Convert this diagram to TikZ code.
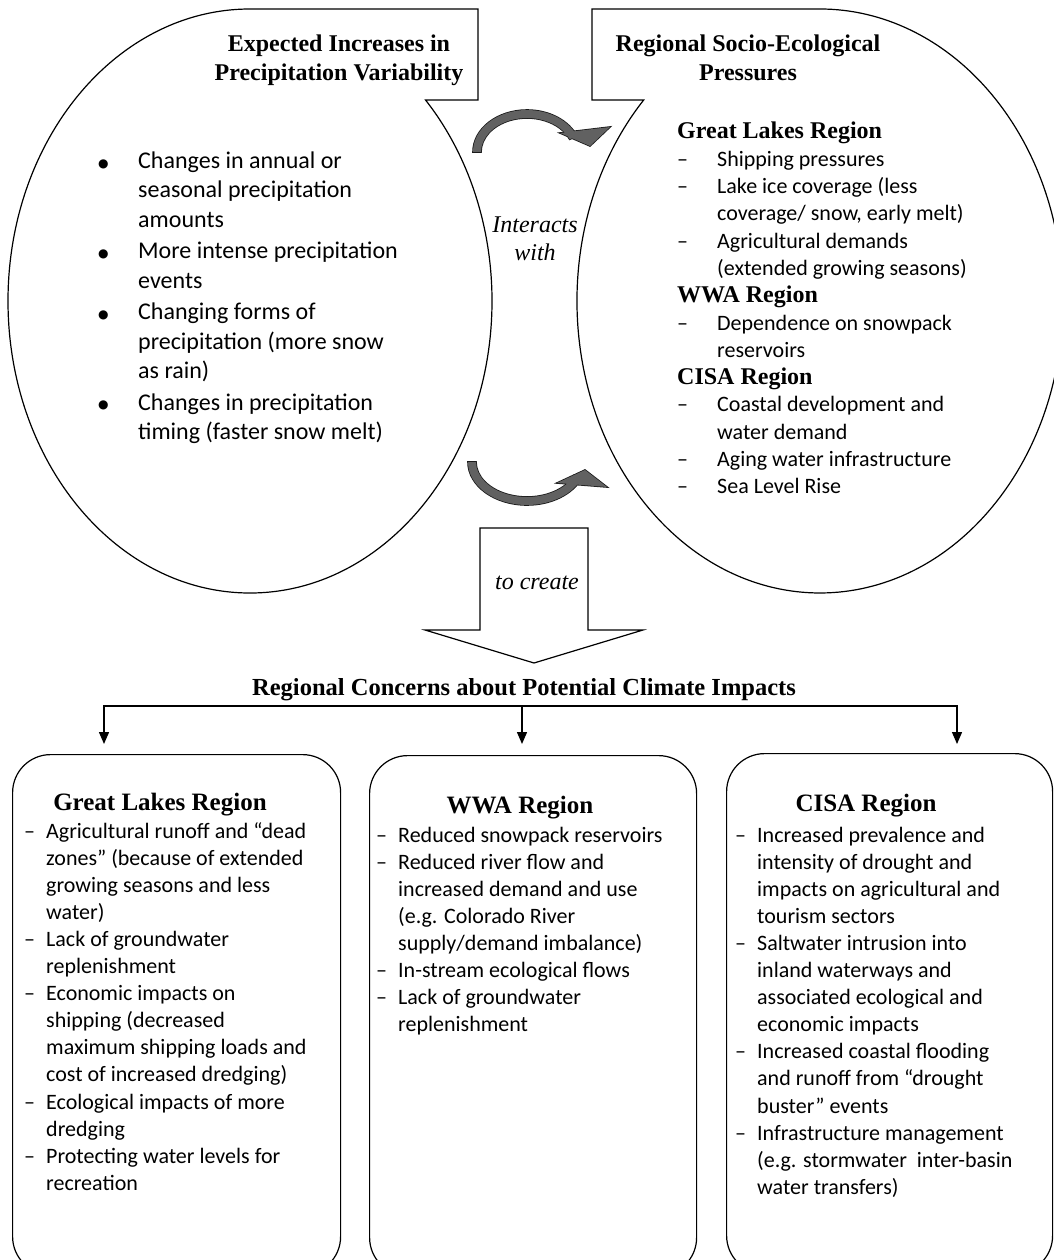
\documentclass[tikz,border=0pt]{standalone}
\usepackage{fontspec}
\setmainfont{Liberation Serif}
\newfontfamily\calfont{Carlito}
\newfontfamily\symfont{DejaVu Sans}
\usetikzlibrary{arrows.meta,calc}
\newcommand{\mybul}{\makebox[40pt][l]{\raisebox{1pt}{\symfont\fontsize{12}{12}\selectfont ●}}}
\newcommand{\myind}{\hspace*{40pt}}
\newcommand{\mydash}{\makebox[40pt][l]{–}}
\newcommand{\bxdash}{\makebox[22pt][l]{–}}
\newcommand{\bxind}{\hspace*{22pt}}
\newcommand{\myhead}[1]{{\rmfamily\bfseries\fontsize{24}{27.3}\selectfont #1}}
\tikzset{
  outline/.style={draw=black, line width=1.2pt},
  regionbox/.style={draw=black, line width=1.2pt, rounded corners=38pt, inner sep=0pt, anchor=north west},
  titletext/.style={anchor=base, inner sep=0pt, font=\bfseries\fontsize{24}{28.5}\selectfont},
  boxtitle/.style={anchor=base, inner sep=0pt, font=\bfseries\fontsize{25}{28.5}\selectfont},
  bigtext/.style={anchor=base west, inner sep=0pt, font=\calfont\fontsize{24}{29.5}\selectfont},
  ringtext/.style={anchor=base west, inner sep=0pt, font=\calfont\fontsize{22}{27.3}\selectfont},
  boxtext/.style={anchor=base west, inner sep=0pt, font=\calfont\fontsize{22}{27.1}\selectfont},
  linktext/.style={anchor=base, inner sep=0pt, font=\itshape\fontsize{24}{28}\selectfont},
  conn/.style={draw=black, line width=1.4pt},
  arrowfill/.style={fill=black!62},
  arrowedge/.style={draw=black!90, line width=1.6pt},
}
\begin{document}
\begin{tikzpicture}[x=1pt,y=1pt]
\useasboundingbox (0,0) rectangle (1053,-1260);

% ---- left ellipse with title callout
\draw[outline] (250,-9) arc[start angle=90,end angle=403.5,x radius=242pt,y radius=292pt]
  -- (478,-100) -- (478,-9) -- cycle;
% ---- right ellipse with title callout
\draw[outline] (820,-9) -- (592,-9) -- (592,-100) -- (643.7,-100)
  arc[start angle=136.5,end angle=450,x radius=243pt,y radius=292pt] -- cycle;

\node[titletext] (lefttitle) at (339,-52) {\begin{tabular}[t]{@{}c@{}}Expected Increases in\\ Precipitation Variability\end{tabular}};
\node[titletext] (righttitle) at (748,-52) {\begin{tabular}[t]{@{}c@{}}Regional Socio-Ecological\\ Pressures\end{tabular}};

\node[bigtext] (leftlist) at (98,-168) {\begin{tabular}[t]{@{}l@{}}
\mybul Changes in annual or\\
\myind seasonal precipitation\\
\myind amounts\\[2pt]
\mybul More intense precipitation\\
\myind events\\[2pt]
\mybul Changing forms of\\
\myind precipitation (more snow\\
\myind as rain)\\[2pt]
\mybul Changes in precipitation\\
\myind timing (faster snow melt)
\end{tabular}};

\node[ringtext] (rightlist) at (677,-139) {\begin{tabular}[t]{@{}l@{}}
\myhead{Great Lakes Region}\\
\mydash Shipping pressures\\
\mydash Lake ice coverage (less\\
\myind coverage/ snow, early melt)\\
\mydash Agricultural demands\\
\myind (extended growing seasons)\\
\myhead{WWA Region}\\
\mydash Dependence on snowpack\\
\myind reservoirs\\
\myhead{CISA Region}\\
\mydash Coastal development and\\
\myind water demand\\
\mydash Aging water infrastructure\\
\mydash Sea Level Rise
\end{tabular}};

% ---- curved arrows
\draw[arrowedge] (473,-152) arc[start angle=180,end angle=22,x radius=54pt,y radius=42pt]
  -- ($(527,-152)+(22:46pt and 34pt)$) arc[start angle=22,end angle=180,x radius=46pt,y radius=34pt] -- cycle;
\draw[arrowedge] (560,-133) -- (610,-127) -- (590,-146) -- cycle;
\fill[arrowfill] (473,-152) arc[start angle=180,end angle=22,x radius=54pt,y radius=42pt]
  -- ($(527,-152)+(22:46pt and 34pt)$) arc[start angle=22,end angle=180,x radius=46pt,y radius=34pt] -- cycle;
\fill[arrowfill] (560,-133) -- (610,-127) -- (590,-146) -- cycle;

\draw[arrowedge] (468,-462) arc[start angle=180,end angle=338,x radius=59pt,y radius=43pt]
  -- ($(527,-462)+(338:51pt and 35pt)$) arc[start angle=338,end angle=180,x radius=51pt,y radius=35pt] -- cycle;
\draw[arrowedge] (557,-483) -- (607,-487) -- (585,-470) -- cycle;
\fill[arrowfill] (468,-462) arc[start angle=180,end angle=338,x radius=59pt,y radius=43pt]
  -- ($(527,-462)+(338:51pt and 35pt)$) arc[start angle=338,end angle=180,x radius=51pt,y radius=35pt] -- cycle;
\fill[arrowfill] (557,-483) -- (607,-487) -- (585,-470) -- cycle;

\node[linktext] (interacts) at (535,-233) {\begin{tabular}[t]{@{}c@{}}Interacts\\ with\end{tabular}};

% ---- big down arrow
\draw[outline, fill=white] (480,-528) -- (588,-528) -- (588,-630) -- (643,-630) -- (534,-663)
  -- (425,-630) -- (480,-630) -- cycle;
\node[linktext] (tocreate) at (537,-589) {to create};

% ---- concerns heading and connectors
\node[titletext, font=\bfseries\fontsize{24.5}{28}\selectfont] (concerns) at (524,-695) {Regional Concerns about Potential Climate Impacts};
\coordinate (c1) at (104,-706);
\coordinate (c2) at (522,-706);
\coordinate (c3) at (957,-706);
\coordinate (t1) at (104,-744);
\coordinate (t2) at (522,-744);
\coordinate (t3) at (957,-744);
\draw[conn, {Triangle[width=10pt,length=12pt]}-{Triangle[width=10pt,length=12pt]}] (t1) -- (c1) -- (c3) -- (t3);
\draw[conn, -{Triangle[width=10pt,length=12pt]}] (c2) -- (t2);

% ---- region boxes
\node[regionbox, minimum width=328pt, minimum height=520pt] (glbox) at (12,-754) {};
\node[regionbox, minimum width=327pt, minimum height=520pt] (wwabox) at (369,-755) {};
\node[regionbox, minimum width=326pt, minimum height=520pt] (cisabox) at (726,-753) {};

\node[boxtitle] (gltitle) at (160,-810) {Great Lakes Region};
\node[boxtitle] (wwatitle) at (520,-813) {WWA Region};
\node[boxtitle] (cisatitle) at (866,-811) {CISA Region};

\node[boxtext] (gltext) at (24,-838) {\begin{tabular}[t]{@{}l@{}}
\bxdash Agricultural runoff and “dead\\
\bxind zones” (because of extended\\
\bxind growing seasons and less\\
\bxind water)\\
\bxdash Lack of groundwater\\
\bxind replenishment\\
\bxdash Economic impacts on\\
\bxind shipping (decreased\\
\bxind maximum shipping loads and\\
\bxind cost of increased dredging)\\
\bxdash Ecological impacts of more\\
\bxind dredging\\
\bxdash Protecting water levels for\\
\bxind recreation
\end{tabular}};

\node[boxtext] (wwatext) at (376,-842) {\begin{tabular}[t]{@{}l@{}}
\bxdash Reduced snowpack reservoirs\\
\bxdash Reduced river flow and\\
\bxind increased demand and use\\
\bxind (e.g. Colorado River\\
\bxind supply/demand imbalance)\\
\bxdash In-stream ecological flows\\
\bxdash Lack of groundwater\\
\bxind replenishment
\end{tabular}};

\node[boxtext] (cisatext) at (735,-842) {\begin{tabular}[t]{@{}l@{}}
\bxdash Increased prevalence and\\
\bxind intensity of drought and\\
\bxind impacts on agricultural and\\
\bxind tourism sectors\\
\bxdash Saltwater intrusion into\\
\bxind inland waterways and\\
\bxind associated ecological and\\
\bxind economic impacts\\
\bxdash Increased coastal flooding\\
\bxind and runoff from “drought\\
\bxind buster” events\\
\bxdash Infrastructure management\\
\bxind (e.g. stormwater\ \ inter-basin\\
\bxind water transfers)
\end{tabular}};
\end{tikzpicture}
\end{document}
